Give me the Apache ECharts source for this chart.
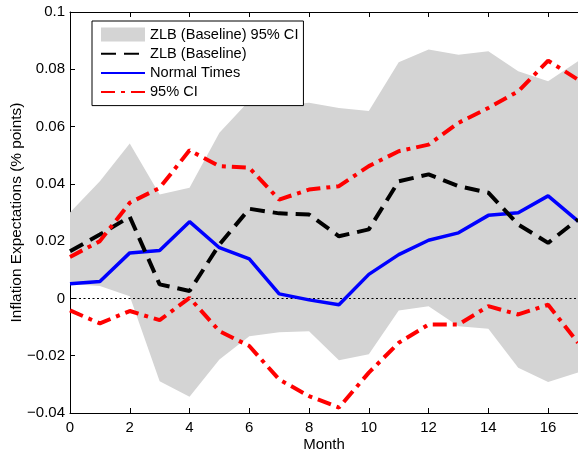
<!DOCTYPE html>
<html>
<head>
<meta charset="utf-8">
<script src="https://cdn.jsdelivr.net/npm/echarts@6/dist/echarts.min.js"></script>
<style>
html,body{margin:0;padding:0;background:#fff;}
#chart{width:578px;height:451px;}
</style>
</head>
<body>
<div id="chart"></div>
<script>
var months = [0,1,2,3,4,5,6,7,8,9,10,11,12,13,14,15,16,17];
var normalTimes = [0.0051,0.0059,0.0159,0.0167,0.0268,0.0177,0.0138,0.0016,-0.0005,-0.0022,0.0084,0.0153,0.0203,0.0229,0.0290,0.0299,0.0358,0.0270];
var zlbBaseline = [0.0165,0.0223,0.0285,0.0049,0.0026,0.0188,0.0313,0.0297,0.0293,0.0217,0.0241,0.0409,0.0433,0.0392,0.0369,0.0258,0.0194,0.0276];
var ciUpper = [0.0145,0.0200,0.0334,0.0386,0.0517,0.0462,0.0456,0.0345,0.0380,0.0392,0.0462,0.0514,0.0537,0.0613,0.0665,0.0723,0.0830,0.0764];
var ciLower = [-0.0042,-0.0087,-0.0044,-0.0076,0.0002,-0.0114,-0.0166,-0.0283,-0.0341,-0.0381,-0.0259,-0.0155,-0.0091,-0.0091,-0.0027,-0.0056,-0.0022,-0.0155];
var bandUpper = [0.0300,0.0409,0.0541,0.0363,0.0386,0.0578,0.0690,0.0673,0.0683,0.0665,0.0654,0.0825,0.0869,0.0851,0.0863,0.0793,0.0758,0.0828];
var bandLower = [0.0050,0.0043,0.0008,-0.0289,-0.0343,-0.0213,-0.0132,-0.0118,-0.0115,-0.0216,-0.0195,-0.0042,-0.0027,-0.0097,-0.0106,-0.0242,-0.0292,-0.0259];
var legendNames = ['ZLB (Baseline) 95% CI','ZLB (Baseline)','Normal Times','95% CI'];

function pairs(arr){ return months.map(function(m,i){ return [m, arr[i]]; }); }
var bandData = months.map(function(m,i){ return [m, bandUpper[i], bandLower[i]]; });

var FONT = '"Liberation Sans", Arial, Helvetica, sans-serif';
var chart = echarts.init(document.getElementById('chart'), null, {renderer:'canvas'});
var axisLineStyle = {onZero:false, lineStyle:{color:'#000', width:1}};
var hideSym = {opacity:0};
var BAND = '#d4d4d4';
var option = {
  animation:false,
  backgroundColor:'#fff',
  textStyle:{fontFamily:FONT},
  grid:{left:70, right:0, top:12, bottom:38, containLabel:false, outerBoundsMode:'none'},
  legend:{
    data:[
      {name:legendNames[0], icon:'rect', itemStyle:{color:BAND}},
      {name:legendNames[1], itemStyle:hideSym},
      {name:legendNames[2], itemStyle:hideSym},
      {name:legendNames[3], itemStyle:hideSym}
    ],
    orient:'vertical', left:92, top:21,
    padding:[6,5,6,8], itemGap:4.2, itemWidth:44, itemHeight:14,
    backgroundColor:'#fff', borderColor:'#000', borderWidth:1,
    textStyle:{fontFamily:FONT, fontSize:14.6, color:'#000', lineHeight:14},
    selectedMode:false
  },
  xAxis:[{
    type:'value', min:0, max:17, interval:2, position:'bottom',
    name:'Month', nameLocation:'middle', nameGap:24, nameMoveOverlap:false,
    nameTextStyle:{fontFamily:FONT, fontSize:15, color:'#000'},
    axisLine:axisLineStyle,
    axisTick:{inside:true, length:5, lineStyle:{color:'#000'}},
    axisLabel:{fontFamily:FONT, fontSize:15, color:'#000', margin:7, showMaxLabel:false},
    splitLine:{show:false}
  },{
    type:'value', min:0, max:17, interval:2, position:'top',
    axisLine:axisLineStyle,
    axisTick:{inside:true, length:5, lineStyle:{color:'#000'}},
    axisLabel:{show:false}, splitLine:{show:false}
  }],
  yAxis:[{
    type:'value', min:-0.04, max:0.1, interval:0.02, position:'left',
    name:'Inflation Expectations (% points)', nameLocation:'middle', nameGap:46, nameMoveOverlap:false,
    nameTextStyle:{fontFamily:FONT, fontSize:15.4, color:'#000'},
    axisLine:axisLineStyle,
    axisTick:{inside:true, length:5, lineStyle:{color:'#000'}},
    axisLabel:{fontFamily:FONT, fontSize:15, color:'#000', margin:5,
      formatter:function(v){ var r = Math.round(v*100)/100; return String(r).replace('-', '\u2212'); }},
    splitLine:{show:false}
  },{
    type:'value', min:-0.04, max:0.1, interval:0.02, position:'right',
    axisLine:{show:false, onZero:false},
    axisTick:{show:true, inside:true, length:5, lineStyle:{color:'#000'}},
    axisLabel:{show:false}, splitLine:{show:false}
  }],
  series:[
    {
      name:legendNames[0], type:'custom', data:bandData, clip:true, silent:true,
      encode:{x:0, y:[1,2]},
      itemStyle:{color:BAND},
      renderItem:function(params, api){
        if (params.dataIndex !== 0) return null;
        var pts = [];
        for (var i = 0; i < bandData.length; i++) pts.push(api.coord([bandData[i][0], bandData[i][1]]));
        for (var j = bandData.length - 1; j >= 0; j--) pts.push(api.coord([bandData[j][0], bandData[j][2]]));
        return {type:'polygon', shape:{points:pts}, style:{fill:BAND, stroke:null}};
      }
    },
    {
      name:legendNames[2], type:'line', data:pairs(normalTimes), symbol:'none', z:4,
      itemStyle:{color:'#0000ff'},
      lineStyle:{color:'#0000ff', width:3.5},
      markLine:{
        silent:true, symbol:'none', label:{show:false}, z:3,
        lineStyle:{color:'#000', width:1, type:[2,2.5]},
        data:[{yAxis:0}]
      }
    },
    {
      name:legendNames[1], type:'line', data:pairs(zlbBaseline), symbol:'none', z:5,
      itemStyle:{color:'#000'},
      lineStyle:{color:'#000', width:4, type:[15,8], cap:'butt'}
    },
    {
      name:legendNames[3], type:'line', data:pairs(ciUpper), symbol:'none', z:6,
      itemStyle:{color:'#ff0000'},
      lineStyle:{color:'#ff0000', width:4, type:[14,6,4,6], cap:'butt'}
    },
    {
      name:legendNames[3], type:'line', data:pairs(ciLower), symbol:'none', z:6,
      itemStyle:{color:'#ff0000'},
      lineStyle:{color:'#ff0000', width:4, type:[14,6,4,6], cap:'butt'}
    }
  ]
};
chart.setOption(option);
</script>
</body>
</html>
